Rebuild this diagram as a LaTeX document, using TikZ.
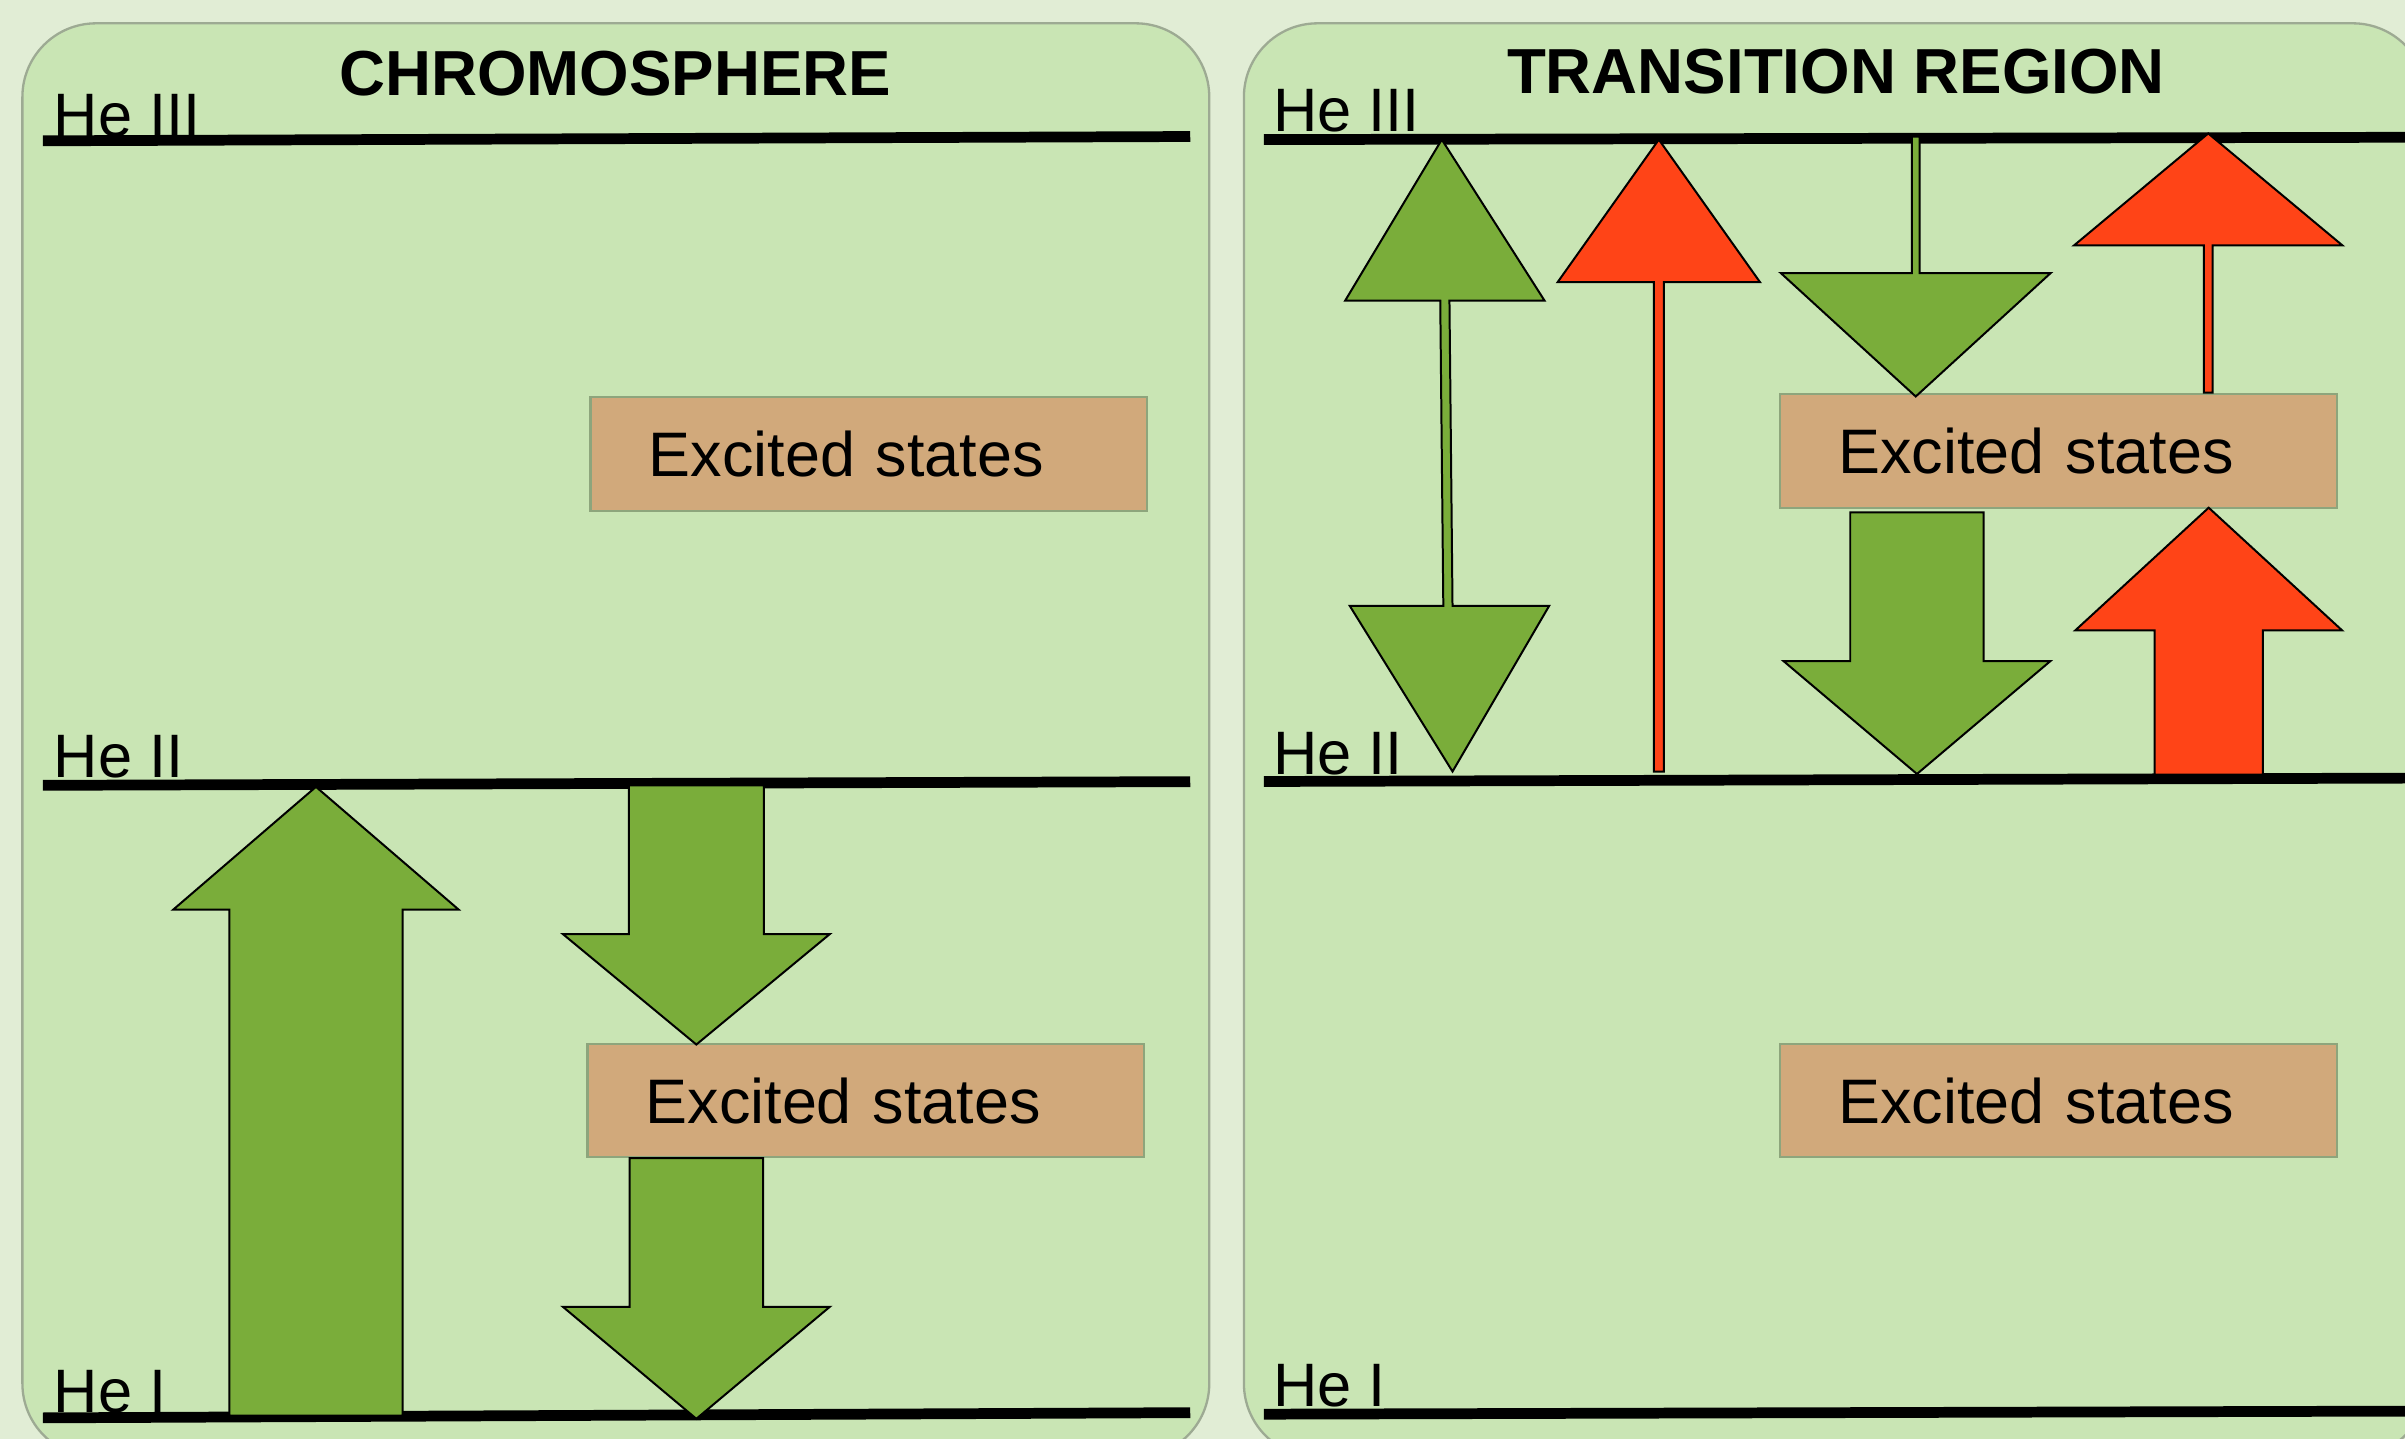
\documentclass[tikz,border=0pt]{standalone}
\usepackage{fontspec}
\setmainfont{Liberation Sans}
\usetikzlibrary{positioning}

\definecolor{outerbg}{HTML}{E1EDD5}
\definecolor{panelbg}{HTML}{C9E5B4}
\definecolor{panelrim}{HTML}{9DAA93}
\definecolor{boxtan}{HTML}{D1A97B}
\definecolor{boxrim}{HTML}{8DA57C}
\definecolor{leafgreen}{HTML}{7AAD3A}
\definecolor{flamered}{HTML}{FF4417}

% style, x, tail y, head base y, tip y, shaft half width, head half width
\newcommand{\blockarrow}[7]{%
  \draw[#1] (#2-#6,#3) -- (#2-#6,#4) -- (#2-#7,#4) -- (#2,#5)
    -- (#2+#7,#4) -- (#2+#6,#4) -- (#2+#6,#3) -- cycle;}

\begin{document}
\begin{tikzpicture}[x=1pt, y=-1pt,
	panel/.style={fill=panelbg, draw=panelrim, line width=1.5pt, rounded corners=48pt},
	level/.style={line width=7pt},
	helabel/.style={font=\fontsize{40}{48}\selectfont, anchor=base west, inner sep=0pt},
	title/.style={font=\fontsize{41.5}{50}\selectfont\bfseries, anchor=base, inner sep=0pt},
	excited/.style={fill=boxtan, draw=boxrim, line width=1.5pt, anchor=north west,
		text width=287pt, align=left, inner xsep=38pt, inner ysep=0pt,
		minimum height=74pt, outer sep=0pt, font=\fontsize{41}{48}\selectfont},
	greenarrow/.style={fill=leafgreen, draw=black, line width=1.3pt},
	redarrow/.style={fill=flamered, draw=black, line width=1.3pt}]
	\useasboundingbox (0,0) rectangle (1568,938);
	\fill[outerbg] (0,0) rectangle (1568,938);
	\draw[panel] (14.6,15.2) rectangle (788.4,950);
	\draw[panel] (811,15.2) rectangle (1582,950);

	% energy levels
	\coordinate (L3a) at (28,91.8);
	\coordinate (L3b) at (776,89);
	\coordinate (L2a) at (28,512);
	\coordinate (L2b) at (776,509.6);
	\coordinate (L1a) at (28,924.4);
	\coordinate (L1b) at (776,921);
	\coordinate (R3a) at (824,91);
	\coordinate (R3b) at (1570,89.5);
	\coordinate (R2a) at (824,509.5);
	\coordinate (R2b) at (1570,507.3);
	\coordinate (R1a) at (824,922);
	\coordinate (R1b) at (1570,920);
	\draw[level] (L3a) -- (L3b);
	\draw[level] (L2a) -- (L2b);
	\draw[level] (L1a) -- (L1b);
	\draw[level] (R3a) -- (R3b);
	\draw[level] (R2a) -- (R2b);
	\draw[level] (R1a) -- (R1b);

	\node[excited] (lexcup) at (385,259) {Excited states};
	\node[excited] (lexclow) at (383,680.5) {Excited states};
	\node[excited] (rexcup) at (1160.7,257) {Excited states};
	\node[excited] (rexclow) at (1160.7,680.5) {Excited states};

	% chromosphere
	\blockarrow{greenarrow}{206}{923}{593}{513}{56.5}{93}
	\blockarrow{greenarrow}{454}{512}{609}{681}{44}{87}
	\blockarrow{greenarrow}{454}{755}{852}{925}{43.5}{87}

	% transition region
	\draw[greenarrow] (940,91) -- (1007,196) -- (945,196) -- (947,395) -- (1010,395)
		-- (947,503) -- (880,395) -- (941,395) -- (939,196) -- (877,196) -- cycle;
	\blockarrow{redarrow}{1081.5}{503}{184}{91}{3.3}{66}
	\blockarrow{greenarrow}{1249}{89}{178}{258.5}{2.5}{88}
	\blockarrow{redarrow}{1439.7}{256}{160}{87}{2.8}{87.5}
	\blockarrow{greenarrow}{1249.8}{334}{431}{504.6}{43.5}{87}
	\blockarrow{redarrow}{1440}{505}{411}{331}{35.3}{87}

	\node[title] (chromo) at (401,62) {CHROMOSPHERE};
	\node[title] (transreg) at (1197,61) {TRANSITION REGION};
	\node[helabel] (lHeIII) at (35,89) {He III};
	\node[helabel] (lHeII) at (35,507) {He II};
	\node[helabel] (lHeI) at (35,921) {He I};
	\node[helabel] (rHeIII) at (830,86) {He III};
	\node[helabel] (rHeII) at (830,505) {He II};
	\node[helabel] (rHeI) at (830,917) {He I};
\end{tikzpicture}
\end{document}
